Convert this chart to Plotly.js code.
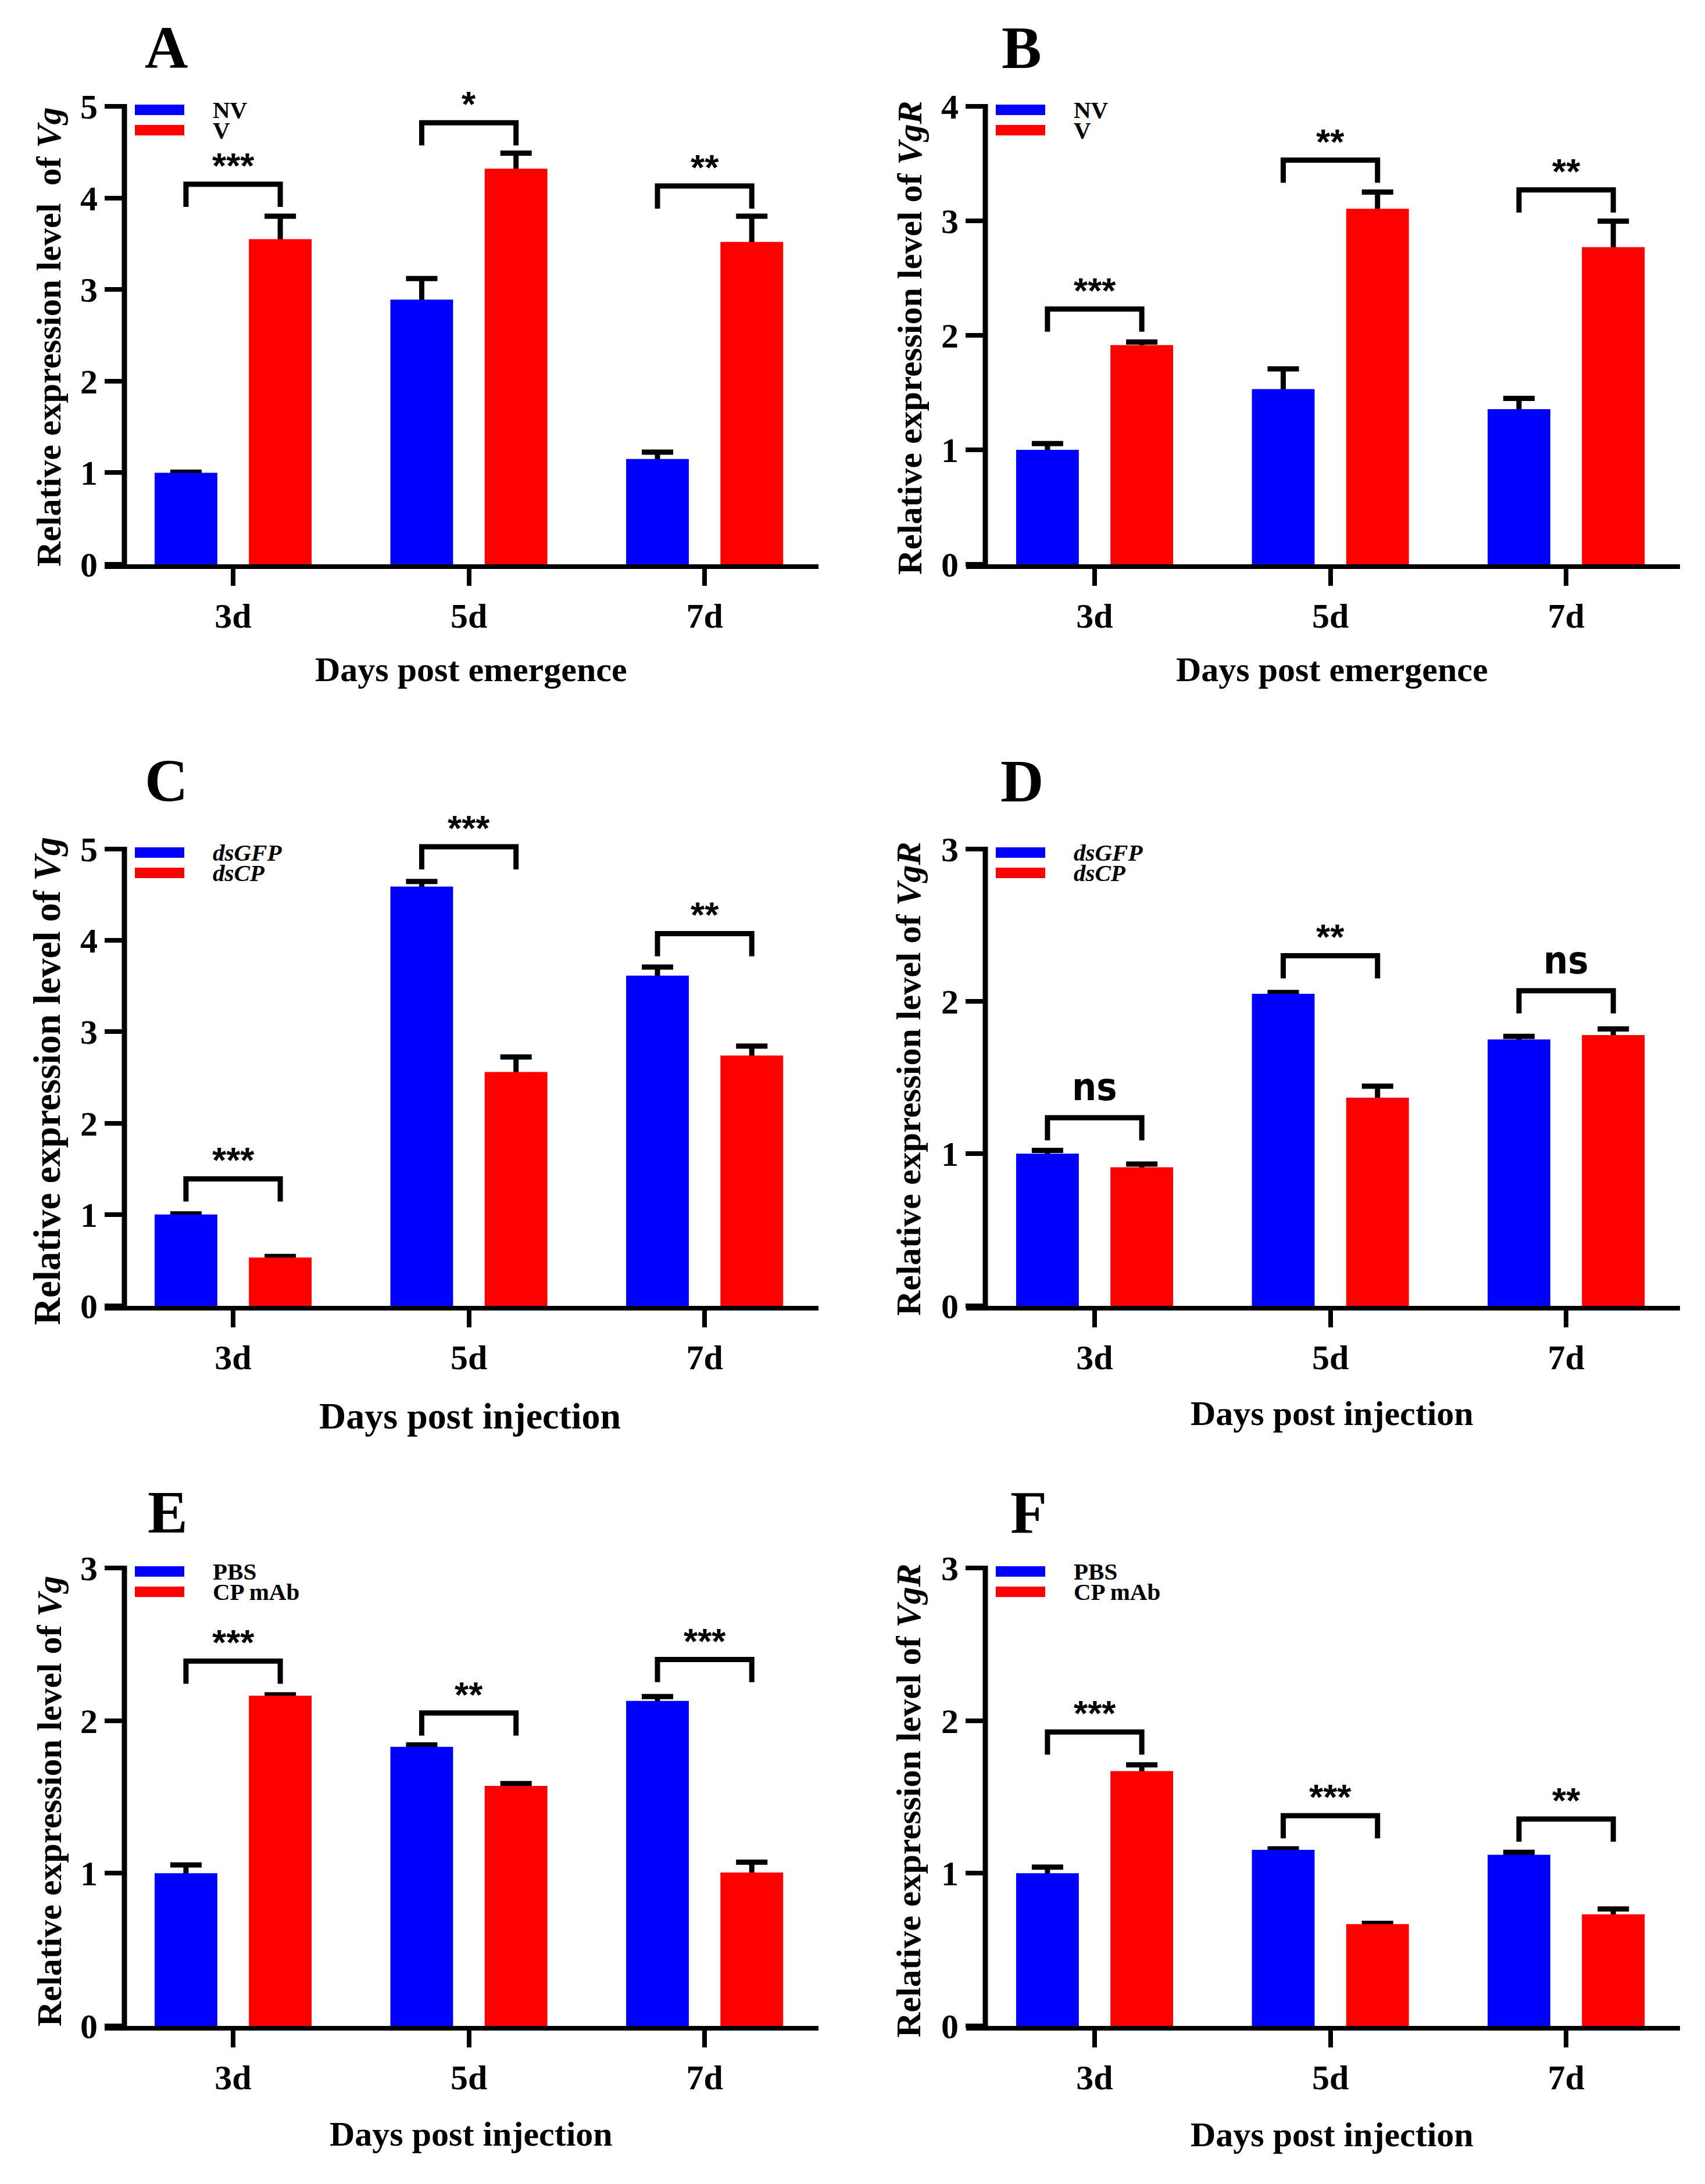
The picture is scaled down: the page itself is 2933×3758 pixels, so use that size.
<!DOCTYPE html>
<html><head><meta charset="utf-8">
<script src="https://cdn.plot.ly/plotly-3.0.1.min.js"></script>
<style>html,body{margin:0;padding:0;background:#fff}</style>
</head><body>
<div id="chart" style="width:2933px;height:3758px"></div>
<script>
// ---------------- DATA ----------------
const categories = ['3d', '5d', '7d'];

// Panel A – Vg, days post emergence
const A_groups = ['NV', 'V'];
const A_blue = [1.00, 2.89, 1.15];
const A_blueSem = [0.005, 0.23, 0.075];
const A_red = [3.55, 4.32, 3.52];
const A_redSem = [0.25, 0.17, 0.28];
const A_sig = ['***', '*', '**'];
const A_bracket = [4.15, 4.82, 4.13];
const A_yticks = [0, 1, 2, 3, 4, 5];

// Panel B – VgR, days post emergence
const B_groups = ['NV', 'V'];
const B_blue = [1.00, 1.53, 1.355];
const B_blueSem = [0.054, 0.177, 0.094];
const B_red = [1.915, 3.105, 2.77];
const B_redSem = [0.026, 0.146, 0.227];
const B_sig = ['***', '**', '**'];
const B_bracket = [2.23, 3.53, 3.27];
const B_yticks = [0, 1, 2, 3, 4];

// Panel C – Vg, days post injection (dsRNA)
const C_groups = ['dsGFP', 'dsCP'];
const C_blue = [1.00, 4.59, 3.615];
const C_blueSem = [0.006, 0.056, 0.093];
const C_red = [0.53, 2.56, 2.74];
const C_redSem = [0.01, 0.165, 0.104];
const C_sig = ['***', '***', '**'];
const C_bracket = [1.39, 5.025, 4.075];
const C_yticks = [0, 1, 2, 3, 4, 5];

// Panel D – VgR, days post injection (dsRNA)
const D_groups = ['dsGFP', 'dsCP'];
const D_blue = [1.00, 2.05, 1.75];
const D_blueSem = [0.021, 0.008, 0.02];
const D_red = [0.91, 1.367, 1.779];
const D_redSem = [0.021, 0.076, 0.04];
const D_sig = ['ns', '**', 'ns'];
const D_bracket = [1.236, 2.30, 2.07];
const D_yticks = [0, 1, 2, 3];

// Panel E – Vg, days post injection (antibody)
const E_groups = ['PBS', 'CP mAb'];
const E_blue = [1.00, 1.828, 2.129];
const E_blueSem = [0.055, 0.013, 0.029];
const E_red = [2.163, 1.572, 1.005];
const E_redSem = [0.006, 0.016, 0.068];
const E_sig = ['***', '**', '***'];
const E_bracket = [2.39, 2.05, 2.40];
const E_yticks = [0, 1, 2, 3];

// Panel F – VgR, days post injection (antibody)
const F_groups = ['PBS', 'CP mAb'];
const F_blue = [1.00, 1.154, 1.121];
const F_blueSem = [0.04, 0.006, 0.016];
const F_red = [1.669, 0.667, 0.731];
const F_redSem = [0.041, 0.005, 0.035];
const F_sig = ['***', '***', '**'];
const F_bracket = [1.925, 1.377, 1.355];
const F_yticks = [0, 1, 2, 3];

// ---------------- STYLE / LAYOUT ----------------
const W = 2933, H = 3758;
const SERIF = "'Liberation Serif', 'Times New Roman', serif";
const SANS = "'Liberation Sans', Arial, sans-serif";
const NSFONT = "'DejaVu Sans Condensed', 'DejaVu Sans', sans-serif";
const BLUE = '#0000FF', RED = '#FF0000', BLACK = '#000000';
const BARGAP = 0.2, BARGROUPGAP = 0.335;
const xRange = [-0.545, 2.483];
const EXT = 70; // invisible headroom in px above top tick
const LEG = 39; // bracket leg length px

const panels = [
  {letter:'A', g:{xl:180, xr:1408, yax:214, top:183, zero:971}, ymax:5, yticks:A_yticks,
   blue:A_blue, blueSem:A_blueSem, red:A_red, redSem:A_redSem, sig:A_sig, bracket:A_bracket,
   groups:A_groups, italic:false,
   ytitle:'Relative expression level\u00A0 of <i>Vg</i>', ytSize:60, ytPos:[84,580],
   xtitle:'Days post emergence', xtSize:60, xtPos:[810,1152], letterPos:[285.5,82]},
  {letter:'B', g:{xl:1662, xr:2890, yax:1695, top:183, zero:971}, ymax:4, yticks:B_yticks,
   blue:B_blue, blueSem:B_blueSem, red:B_red, redSem:B_redSem, sig:B_sig, bracket:B_bracket,
   groups:B_groups, italic:false,
   ytitle:'Relative expression level of <i>VgR</i>', ytSize:60, ytPos:[1565,582],
   xtitle:'Days post emergence', xtSize:60, xtPos:[2291,1152], letterPos:[1757,82]},
  {letter:'C', g:{xl:180, xr:1408, yax:214, top:1461, zero:2247}, ymax:5, yticks:C_yticks,
   blue:C_blue, blueSem:C_blueSem, red:C_red, redSem:C_redSem, sig:C_sig, bracket:C_bracket,
   groups:C_groups, italic:true,
   ytitle:'Relative expression level of <i>Vg</i>', ytSize:65, ytPos:[81,1860],
   xtitle:'Days post injection', xtSize:64, xtPos:[808,2436], letterPos:[285.5,1343]},
  {letter:'D', g:{xl:1662, xr:2890, yax:1695, top:1461, zero:2247}, ymax:3, yticks:D_yticks,
   blue:D_blue, blueSem:D_blueSem, red:D_red, redSem:D_redSem, sig:D_sig, bracket:D_bracket,
   groups:D_groups, italic:true,
   ytitle:'Relative expression level of <i>VgR</i>', ytSize:60, ytPos:[1563,1857],
   xtitle:'Days post injection', xtSize:60, xtPos:[2291,2432], letterPos:[1758,1344]},
  {letter:'E', g:{xl:180, xr:1408, yax:214, top:2698, zero:3486}, ymax:3, yticks:E_yticks,
   blue:E_blue, blueSem:E_blueSem, red:E_red, redSem:E_redSem, sig:E_sig, bracket:E_bracket,
   groups:E_groups, italic:false,
   ytitle:'Relative expression level of <i>Vg</i>', ytSize:60, ytPos:[85,3100],
   xtitle:'Days post injection', xtSize:60, xtPos:[810,3672], letterPos:[288.5,2602]},
  {letter:'F', g:{xl:1662, xr:2890, yax:1695, top:2698, zero:3486}, ymax:3, yticks:F_yticks,
   blue:F_blue, blueSem:F_blueSem, red:F_red, redSem:F_redSem, sig:F_sig, bracket:F_bracket,
   groups:F_groups, italic:false,
   ytitle:'Relative expression level of <i>VgR</i>', ytSize:60, ytPos:[1563,3099],
   xtitle:'Days post injection', xtSize:60, xtPos:[2291,3673], letterPos:[1769.5,2602]}
];

const traces = [];
const layout = {
  width: W, height: H,
  margin: {l:0, r:0, t:0, b:0},
  paper_bgcolor: '#fff', plot_bgcolor: 'rgba(0,0,0,0)',
  showlegend: false,
  barmode: 'group', bargap: BARGAP, bargroupgap: BARGROUPGAP,
  shapes: [], annotations: []
};
const halfOff = (1 - BARGAP) / 4;
const xs = categories.map((c, i) => i);

panels.forEach((p, k) => {
  const s = k === 0 ? '' : String(k + 1);
  const xa = 'x' + s, ya = 'y' + s;
  const g = p.g;
  const unit = (g.zero - g.top) / p.ymax;  // px per data unit
  const yTopExt = p.ymax + EXT / unit;
  const yAxX = xRange[0] + (g.yax - g.xl) / (g.xr - g.xl) * (xRange[1] - xRange[0]);

  const errStyle = (arr) => ({type:'data', array:arr, symmetric:true, color:BLACK, thickness:9, width:27});
  // error bars drawn first (behind the coloured bars)
  traces.push({type:'bar', x:xs, y:p.blue, xaxis:xa, yaxis:ya, offsetgroup:'b'+k,
    marker:{color:'rgba(0,0,0,0)', line:{width:0}}, error_y:errStyle(p.blueSem), hoverinfo:'skip'});
  traces.push({type:'bar', x:xs, y:p.red, xaxis:xa, yaxis:ya, offsetgroup:'r'+k,
    marker:{color:'rgba(0,0,0,0)', line:{width:0}}, error_y:errStyle(p.redSem), hoverinfo:'skip'});
  traces.push({type:'bar', x:xs, y:p.blue, xaxis:xa, yaxis:ya, offsetgroup:'b'+k, name:p.groups[0],
    marker:{color:BLUE, line:{width:0}}, hoverinfo:'skip'});
  traces.push({type:'bar', x:xs, y:p.red, xaxis:xa, yaxis:ya, offsetgroup:'r'+k, name:p.groups[1],
    marker:{color:RED, line:{width:0}}, hoverinfo:'skip'});

  layout['xaxis' + s] = {
    domain:[g.xl / W, g.xr / W], range:xRange, anchor:ya,
    showline:true, linewidth:8, linecolor:BLACK,
    ticks:'outside', ticklen:29, tickwidth:8, tickcolor:BLACK,
    tickmode:'array', tickvals:xs, ticktext:categories,
    tickfont:{family:SERIF, size:60, color:BLACK, weight:'bold'},
    ticklabelstandoff:0,
    showgrid:false, zeroline:false, fixedrange:true
  };
  layout['yaxis' + s] = {
    domain:[(H - g.zero) / H, (H - (g.top - EXT)) / H], range:[0, yTopExt],
    anchor:'free', position:g.yax / W,
    showline:false,
    ticks:'outside', ticklen:34, tickwidth:8, tickcolor:BLACK,
    tickmode:'array', tickvals:p.yticks, ticktext:p.yticks.map(String),
    tickfont:{family:SERIF, size:60, color:BLACK, weight:'bold'},
    ticklabelstandoff:0,
    showgrid:false, zeroline:false, fixedrange:true
  };

  // y axis line (ends at top tick)
  layout.shapes.push({type:'line', xref:xa, yref:ya, x0:yAxX, x1:yAxX, y0:0, y1:p.ymax + 4 / unit,
    line:{color:BLACK, width:9}, layer:'above'});

  // significance brackets + labels
  const legU = LEG / unit;
  categories.forEach((c, i) => {
    const x0 = i - halfOff, x1 = i + halfOff, yt = p.bracket[i], yb = yt - legU;
    layout.shapes.push({type:'path', xref:xa, yref:ya,
      path:`M${x0},${yb} L${x0},${yt} L${x1},${yt} L${x1},${yb}`,
      line:{color:BLACK, width:9}, layer:'above'});
    const isNs = p.sig[i] === 'ns';
    layout.annotations.push({xref:xa, yref:ya, x:i, y:yt, text:p.sig[i], showarrow:false,
      xanchor:'center', yanchor:'bottom', yshift: isNs ? 12 : -4,
      font: isNs ? {family:NSFONT, size:66, color:BLACK, weight:'bold'}
                 : {family:SANS, size:62, color:BLACK, weight:'bold'}});
  });

  // legend (rectangles + labels)
  p.groups.forEach((lab, j) => {
    const t = g.top - 3 + j * 35;
    layout.shapes.push({type:'rect', xref:'paper', yref:'paper',
      x0:(g.yax + 18) / W, x1:(g.yax + 103) / W, y0:(H - t - 18) / H, y1:(H - t) / H,
      fillcolor: j === 0 ? BLUE : RED, line:{width:0}, layer:'above'});
    layout.annotations.push({xref:'paper', yref:'paper', x:(g.yax + 151) / W, y:(H - t - 9) / H,
      text: p.italic ? '<i>' + lab + '</i>' : lab, showarrow:false, xanchor:'left', yanchor:'middle',
      borderpad:0,
      font:{family:SERIF, size:41, color:BLACK, weight:'bold'}});
  });

  // axis titles
  layout.annotations.push({xref:'paper', yref:'paper', x:p.ytPos[0] / W, y:(H - p.ytPos[1]) / H,
    text:p.ytitle, textangle:-90, showarrow:false, xanchor:'center', yanchor:'middle',
    font:{family:SERIF, size:p.ytSize, color:BLACK, weight:'bold'}});
  layout.annotations.push({xref:'paper', yref:'paper', x:p.xtPos[0] / W, y:(H - p.xtPos[1]) / H,
    text:p.xtitle, showarrow:false, xanchor:'center', yanchor:'middle',
    font:{family:SERIF, size:p.xtSize, color:BLACK, weight:'bold'}});
  // panel letter
  layout.annotations.push({xref:'paper', yref:'paper', x:p.letterPos[0] / W, y:(H - p.letterPos[1]) / H,
    text:p.letter, showarrow:false, xanchor:'center', yanchor:'middle',
    font:{family:SERIF, size:103, color:BLACK, weight:'bold'}});
});

Plotly.newPlot('chart', traces, layout, {staticPlot:true, displayModeBar:false});
</script>
</body></html>
